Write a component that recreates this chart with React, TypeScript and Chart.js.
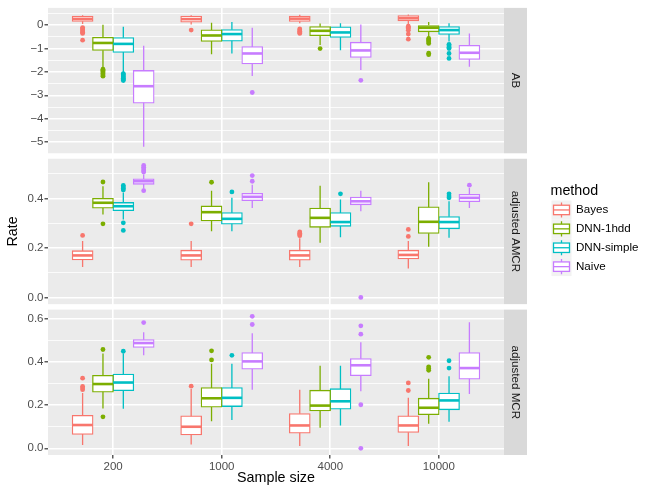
import React, { useEffect, useRef } from 'react';
import { Chart, registerables } from 'chart.js';

Chart.register(...registerables);

const categories = ['200', '1000', '4000', '10000'];
const methods = ['Bayes', 'DNN-1hdd', 'DNN-simple', 'Naive'];
const methodColors = ['#F8766D', '#7CAE00', '#00BFC4', '#C77CFF'];
const facets = ['AB', 'adjusted AMCR', 'adjusted MCR'];

// each row: [lower whisker, Q1, median, Q3, upper whisker] for one sample size
const abBayes = [
  [0.05, 0.17, 0.27, 0.38, 0.43],
  [0.03, 0.14, 0.26, 0.38, 0.43],
  [0.08, 0.17, 0.28, 0.38, 0.45],
  [0.03, 0.2, 0.3, 0.4, 0.46],
];
const abBayesOut = [
  [-0.1, -0.15, -0.2, -0.25, -0.3, -0.35, -0.64],
  [-0.21],
  [-0.16, -0.21, -0.26, -0.31, -0.35],
  [-0.04, -0.09, -0.14, -0.22, -0.38, -0.6],
];
const abDnn1hdd = [
  [-1.8, -1.07, -0.76, -0.53, 0.02],
  [-1.24, -0.68, -0.44, -0.21, 0.1],
  [-0.85, -0.44, -0.24, -0.07, 0.07],
  [-0.5, -0.27, -0.11, 0.0, 0.14],
];
const abDnn1hddOut = [
  [-1.88, -1.93, -1.98, -2.03, -2.08, -2.13, -2.18],
  [],
  [-1.0],
  [-0.57, -0.62, -0.67, -0.72, -0.78, -1.2, -1.26],
];
const abDnnSimple = [
  [-2.0, -1.15, -0.8, -0.54, -0.07],
  [-1.21, -0.67, -0.38, -0.2, 0.14],
  [-1.07, -0.51, -0.31, -0.085, 0.085],
  [-0.7, -0.38, -0.21, -0.07, 0.085],
];
const abDnnSimpleOut = [
  [-2.07, -2.12, -2.17, -2.22, -2.27, -2.32, -2.37],
  [],
  [],
  [-0.82, -0.88, -0.94, -1.0, -1.21, -1.42],
];
const abNaive = [
  [-5.2, -3.32, -2.61, -1.95, -0.88],
  [-2.17, -1.64, -1.21, -0.93, -0.11],
  [-1.92, -1.37, -1.08, -0.74, 0.03],
  [-1.78, -1.45, -1.18, -0.87, -0.36],
];
const abNaiveOut = [[], [-2.88], [-2.36], []];

const amcrBayes = [
  [0.123, 0.153, 0.17, 0.188, 0.228],
  [0.123, 0.152, 0.17, 0.19, 0.228],
  [0.123, 0.152, 0.17, 0.19, 0.24],
  [0.117, 0.157, 0.172, 0.19, 0.228],
];
const amcrBayesOut = [[0.251], [0.298], [0.25, 0.255, 0.26, 0.265], [0.247, 0.275]];
const amcrDnn1hdd = [
  [0.336, 0.362, 0.383, 0.4, 0.45],
  [0.268, 0.311, 0.345, 0.369, 0.432],
  [0.221, 0.285, 0.322, 0.36, 0.452],
  [0.205, 0.26, 0.306, 0.365, 0.466],
];
const amcrDnn1hddOut = [[0.298, 0.467], [0.466], [], []];
const amcrDnnSimple = [
  [0.315, 0.352, 0.369, 0.383, 0.425],
  [0.268, 0.298, 0.318, 0.342, 0.403],
  [0.244, 0.289, 0.305, 0.342, 0.396],
  [0.242, 0.279, 0.305, 0.326, 0.389],
];
const amcrDnnSimpleOut = [
  [0.271, 0.302, 0.435, 0.441, 0.447, 0.453],
  [0.427],
  [0.419],
  [0.403, 0.41, 0.419],
];
const amcrNaive = [
  [0.44, 0.459, 0.47, 0.479, 0.497],
  [0.362, 0.393, 0.407, 0.42, 0.456],
  [0.349, 0.376, 0.389, 0.405, 0.432],
  [0.362, 0.389, 0.403, 0.416, 0.443],
];
const amcrNaiveOut = [[0.432, 0.507, 0.513, 0.52, 0.527, 0.534], [0.47, 0.493], [0.0], [0.454]];

const mcrBayes = [
  [0.015, 0.066, 0.108, 0.152, 0.257],
  [0.018, 0.063, 0.1, 0.149, 0.275],
  [0.011, 0.072, 0.106, 0.16, 0.272],
  [0.011, 0.075, 0.106, 0.149, 0.234],
];
const mcrBayesOut = [[0.272, 0.28, 0.287, 0.325], [0.288], [], [0.268, 0.303]];
const mcrDnn1hdd = [
  [0.185, 0.262, 0.298, 0.337, 0.44],
  [0.126, 0.192, 0.232, 0.28, 0.392],
  [0.095, 0.175, 0.198, 0.268, 0.383],
  [0.114, 0.157, 0.188, 0.231, 0.323],
];
const mcrDnn1hddOut = [[0.146, 0.458], [0.41, 0.452], [], [0.362, 0.37, 0.378, 0.422]];
const mcrDnnSimple = [
  [0.183, 0.269, 0.305, 0.343, 0.44],
  [0.131, 0.195, 0.234, 0.28, 0.392],
  [0.106, 0.183, 0.218, 0.275, 0.383],
  [0.123, 0.18, 0.222, 0.255, 0.334],
];
const mcrDnnSimpleOut = [[0.45], [0.431], [], [0.372, 0.406]];
const mcrNaive = [
  [0.431, 0.469, 0.488, 0.503, 0.538],
  [0.272, 0.368, 0.403, 0.442, 0.534],
  [0.265, 0.338, 0.385, 0.415, 0.492],
  [0.252, 0.322, 0.372, 0.442, 0.585],
];
const mcrNaiveOut = [[0.583], [0.574, 0.612], [0.0, 0.202, 0.529, 0.568], []];

// axis ticks and limits per facet
const abTicks = [-5, -4, -3, -2, -1, 0];
const abTickLabels = ['\u22125', '\u22124', '\u22123', '\u22122', '\u22121', '0'];
const abMinorTicks = [-4.5, -3.5, -2.5, -1.5, -0.5, 0.5];
const abLimits = [-5.48, 0.74];
const amcrTicks = [0, 0.2, 0.4];
const amcrTickLabels = ['0.0', '0.2', '0.4'];
const amcrMinorTicks = [0.1, 0.3, 0.5];
const amcrLimits = [-0.027, 0.561];
const mcrTicks = [0, 0.2, 0.4, 0.6];
const mcrTickLabels = ['0.0', '0.2', '0.4', '0.6'];
const mcrMinorTicks = [0.1, 0.3, 0.5];
const mcrLimits = [-0.031, 0.643];

const facetStats = [
  [abBayes, abDnn1hdd, abDnnSimple, abNaive],
  [amcrBayes, amcrDnn1hdd, amcrDnnSimple, amcrNaive],
  [mcrBayes, mcrDnn1hdd, mcrDnnSimple, mcrNaive],
];
const facetOutliers = [
  [abBayesOut, abDnn1hddOut, abDnnSimpleOut, abNaiveOut],
  [amcrBayesOut, amcrDnn1hddOut, amcrDnnSimpleOut, amcrNaiveOut],
  [mcrBayesOut, mcrDnn1hddOut, mcrDnnSimpleOut, mcrNaiveOut],
];
const facetTicks = [abTicks, amcrTicks, mcrTicks];
const facetTickLabels = [abTickLabels, amcrTickLabels, mcrTickLabels];
const facetMinorTicks = [abMinorTicks, amcrMinorTicks, mcrMinorTicks];
const facetLimits = [abLimits, amcrLimits, mcrLimits];
const facetAxisIds = ['yAB', 'yAMCR', 'yMCR'];

const FONT = "'Liberation Sans', Arial, sans-serif";
const DODGE = 0.75;
const PANEL_H = 146;
const GAP_H = 5.5;
const STRIP_W = 23;
const BOX_LW = 1.3;
const MEDIAN_LW = 2.6;

function makeYAxis(f: number) {
  const major = facetTicks[f];
  const minor = facetMinorTicks[f];
  const labels = facetTickLabels[f];
  return {
    type: 'linear',
    position: 'left',
    stack: 'rows',
    stackWeight: PANEL_H,
    weight: 5 - 2 * f,
    stacked: false,
    min: facetLimits[f][0],
    max: facetLimits[f][1],
    afterFit: (s: any) => {
      s.width = 48;
    },
    afterBuildTicks: (s: any) => {
      s.ticks = [
        ...major.map((v) => ({ value: v, minor: false })),
        ...minor.map((v) => ({ value: v, minor: true })),
      ].sort((a, b) => a.value - b.value);
    },
    ticks: {
      autoSkip: false,
      padding: 1,
      color: '#4D4D4D',
      font: { family: FONT, size: 11.5 },
      callback: (v: number, i: number, ticks: any[]) => {
        if (ticks[i] && ticks[i].minor) return '';
        const k = major.indexOf(v);
        return k >= 0 ? labels[k] : '';
      },
    },
    grid: {
      color: '#FFFFFF',
      lineWidth: (c: any) => (c.tick && c.tick.minor ? 0.8 : 1.6),
      tickColor: (c: any) => (c.tick && c.tick.minor ? 'rgba(0,0,0,0)' : '#333333'),
      tickWidth: 1.2,
      tickLength: 3.5,
      drawTicks: true,
    },
    border: { display: false },
    title:
      f === 1
        ? {
            display: true,
            text: 'Rate',
            color: '#000000',
            font: { family: FONT, size: 14.3 },
            padding: { top: 4.3, bottom: 0 },
          }
        : { display: false },
  };
}

function makeGapAxis(w: number) {
  return {
    type: 'linear',
    position: 'left',
    display: false,
    stack: 'rows',
    stackWeight: GAP_H,
    weight: w,
    min: 0,
    max: 1,
  };
}

function buildDatasets() {
  const datasets: any[] = [];
  facetAxisIds.forEach((axisId, f) => {
    methods.forEach((m, k) => {
      const stats = facetStats[f][k];
      datasets.push({
        type: 'bar',
        label: m,
        stack: m,
        yAxisID: axisId,
        order: 1,
        stats,
        data: stats.map((s, c) => ({ x: c + 1, y: [s[1], s[3]] })),
        backgroundColor: '#FFFFFF',
        borderColor: methodColors[k],
        borderWidth: BOX_LW,
        borderSkipped: false,
        inflateAmount: BOX_LW / 2,
        categoryPercentage: DODGE,
        barPercentage: 1,
      });
    });
  });
  facetAxisIds.forEach((axisId, f) => {
    methods.forEach((m, k) => {
      const outs = facetOutliers[f][k];
      const offset = (k - (methods.length - 1) / 2) * (DODGE / methods.length);
      datasets.push({
        type: 'scatter',
        label: m + ' outliers',
        yAxisID: axisId,
        order: 0,
        data: outs.flatMap((arr, c) => arr.map((v) => ({ x: c + 1 + offset, y: v }))),
        pointRadius: 2.4,
        pointBorderWidth: 0,
        pointBackgroundColor: methodColors[k],
        pointHoverRadius: 2.4,
      });
    });
  });
  return datasets;
}

const facetPlugin = {
  id: 'facetDecor',
  beforeDraw(chart: any) {
    const { ctx, chartArea } = chart;
    ctx.save();
    facetAxisIds.forEach((id, i) => {
      const s = chart.scales[id];
      ctx.fillStyle = '#EBEBEB';
      ctx.fillRect(chartArea.left, s.top, chartArea.right - chartArea.left, s.bottom - s.top);
      ctx.fillStyle = '#D9D9D9';
      ctx.fillRect(chartArea.right, s.top, STRIP_W, s.bottom - s.top);
      ctx.save();
      ctx.translate(chartArea.right + STRIP_W / 2, (s.top + s.bottom) / 2);
      ctx.rotate(Math.PI / 2);
      ctx.fillStyle = '#1A1A1A';
      ctx.font = `11.6px ${FONT}`;
      ctx.textAlign = 'center';
      ctx.textBaseline = 'middle';
      ctx.fillText(facets[i], 0, 0);
      ctx.restore();
    });
    ctx.restore();
  },
  afterDatasetsDraw(chart: any) {
    const { ctx } = chart;
    ctx.save();
    ctx.lineCap = 'butt';
    chart.data.datasets.forEach((ds: any, i: number) => {
      if (!ds.stats) return;
      const meta = chart.getDatasetMeta(i);
      const ys = chart.scales[ds.yAxisID];
      ctx.strokeStyle = ds.borderColor;
      meta.data.forEach((el: any, j: number) => {
        const s = ds.stats[j];
        const x = el.x;
        const hw = el.width / 2;
        ctx.lineWidth = BOX_LW;
        ctx.beginPath();
        ctx.moveTo(x, ys.getPixelForValue(s[3]));
        ctx.lineTo(x, ys.getPixelForValue(s[4]));
        ctx.moveTo(x, ys.getPixelForValue(s[1]));
        ctx.lineTo(x, ys.getPixelForValue(s[0]));
        ctx.stroke();
        ctx.lineWidth = MEDIAN_LW;
        ctx.beginPath();
        const ym = ys.getPixelForValue(s[2]);
        ctx.moveTo(x - hw, ym);
        ctx.lineTo(x + hw, ym);
        ctx.stroke();
      });
    });
    ctx.restore();
  },
  afterDraw(chart: any) {
    const { ctx, chartArea } = chart;
    const lx = chartArea.right + 47.5;
    const keyW = 20;
    const keyH = 18.9;
    const top = 200.5;
    ctx.save();
    ctx.fillStyle = '#000000';
    ctx.font = `14.3px ${FONT}`;
    ctx.textAlign = 'left';
    ctx.textBaseline = 'middle';
    ctx.fillText('method', lx - 1, 191.5);
    methods.forEach((m, k) => {
      const y0 = top + k * keyH;
      ctx.fillStyle = '#F2F2F2';
      ctx.fillRect(lx, y0, keyW, keyH);
      const cx = lx + keyW / 2;
      const bw = keyW * 0.8;
      ctx.strokeStyle = methodColors[k];
      ctx.lineWidth = BOX_LW;
      ctx.beginPath();
      ctx.moveTo(cx, y0 + keyH * 0.1);
      ctx.lineTo(cx, y0 + keyH * 0.25);
      ctx.moveTo(cx, y0 + keyH * 0.75);
      ctx.lineTo(cx, y0 + keyH * 0.9);
      ctx.stroke();
      ctx.fillStyle = '#FFFFFF';
      ctx.fillRect(cx - bw / 2, y0 + keyH * 0.25, bw, keyH * 0.5);
      ctx.strokeRect(cx - bw / 2, y0 + keyH * 0.25, bw, keyH * 0.5);
      ctx.beginPath();
      ctx.moveTo(cx - bw / 2, y0 + keyH * 0.5);
      ctx.lineTo(cx + bw / 2, y0 + keyH * 0.5);
      ctx.stroke();
      ctx.fillStyle = '#000000';
      ctx.font = `11.6px ${FONT}`;
      ctx.fillText(m, lx + keyW + 4.5, y0 + keyH / 2);
    });
    ctx.restore();
  },
};

export default function App() {
  const ref = useRef<HTMLCanvasElement>(null);
  useEffect(() => {
    if (!ref.current) return;
    const chart = new Chart(ref.current, {
      type: 'bar',
      data: { datasets: buildDatasets() },
      options: {
        responsive: false,
        devicePixelRatio: 1,
        animation: false,
        events: [],
        layout: { padding: { left: 0, top: 6, right: 150, bottom: 0 } },
        plugins: {
          legend: { display: false },
          tooltip: { enabled: false },
        },
        scales: {
          x: {
            type: 'linear',
            position: 'bottom',
            min: 0.4,
            max: 4.6,
            offset: false,
            afterFit: (s: any) => {
              s.height = 36;
            },
            afterBuildTicks: (s: any) => {
              s.ticks = categories.map((_, i) => ({ value: i + 1 }));
            },
            ticks: {
              autoSkip: false,
              maxRotation: 0,
              padding: 1,
              color: '#4D4D4D',
              font: { family: FONT, size: 11.5 },
              callback: (v: number) => categories[Math.round(v) - 1] ?? '',
            },
            grid: {
              offset: false,
              color: '#FFFFFF',
              lineWidth: 1.6,
              tickColor: '#333333',
              tickWidth: 1.2,
              tickLength: 3.5,
            },
            border: { display: false },
            title: {
              display: true,
              text: 'Sample size',
              color: '#000000',
              font: { family: FONT, size: 14.3 },
              padding: { top: 0, bottom: 4 },
            },
          },
          yAB: makeYAxis(0),
          gapA: makeGapAxis(4),
          yAMCR: makeYAxis(1),
          gapB: makeGapAxis(2),
          yMCR: makeYAxis(2),
        } as any,
      } as any,
      plugins: [facetPlugin],
    } as any);
    return () => chart.destroy();
  }, []);
  return (
    <div style={{ position: 'absolute', left: 0, top: 0, width: 654, height: 491, background: '#FFFFFF' }}>
      <canvas ref={ref} width={654} height={491} style={{ display: 'block', width: 654, height: 491 }} />
    </div>
  );
}
